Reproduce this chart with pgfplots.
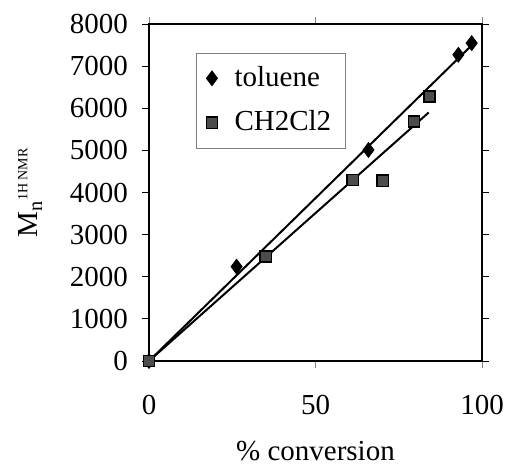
\documentclass[border=0pt]{standalone}
\usepackage{pgfplots}
\pgfplotsset{compat=1.18}
\usepackage{fontspec}
\setmainfont{Liberation Serif}
\begin{document}
\fontsize{14.5}{17}\selectfont
\begin{tikzpicture}
\path[use as bounding box] (-74.5pt,-53.5pt) rectangle (179pt,180.5pt);
\begin{axis}[
  scale only axis,
  width=166.5pt, height=168.5pt,
  xmin=0, xmax=100, ymin=0, ymax=8000,
  xtick={0,50,100}, ytick={0,1000,...,8000},
  tick align=outside,
  major tick length=3.5pt,
  xtick style={draw=gray, thin},
  ytick style={draw=black, thin},
  axis line style={black, line width=0.9pt},
  /pgf/number format/assume math mode=true,
  scaled y ticks=false,
  yticklabel style={/pgf/number format/1000 sep={}, font=\fontsize{14.5}{17}\selectfont, xshift=-2pt},
  xticklabel style={font=\fontsize{14.5}{17}\selectfont, yshift=-8.5pt},
  xlabel={\% conversion},
  xlabel style={font=\fontsize{14.5}{17}\selectfont, at={(axis description cs:0.5,-0.267)}, anchor=center},
  ylabel={M\textsubscript{n}\textsuperscript{\fontsize{7}{8}\selectfont 1H NMR}},
  ylabel style={font=\fontsize{14.5}{17}\selectfont, at={(axis description cs:-0.357,0.5)}, anchor=center},
  legend style={at={(0.141,0.915)}, anchor=north west, draw=gray, thin,
    font=\fontsize{14.5}{17}\selectfont, inner xsep=5pt, inner ysep=4.5pt, row sep=6pt,
    column sep=6.5pt},
  legend cell align=left,
  clip=false,
]
\addplot[only marks, mark=diamond*, mark size=3.7pt, mark options={fill=black, draw=black}] coordinates {
 (0,0) (26.3,2240) (65.9,5010) (92.9,7270) (96.9,7546)};
\addlegendentry{toluene}
\addplot[only marks, mark=square*, mark size=2.8pt, mark options={fill=gray!60!black, draw=black, line width=0.8pt}] coordinates {
 (0,0) (35.1,2478) (61.2,4299) (70.2,4276) (79.6,5684) (84.2,6278)};
\addlegendentry{CH2Cl2}
\addplot[black, line width=1pt, forget plot] coordinates {(0,0) (98,7580)};
\addplot[black, line width=1pt, forget plot] coordinates {(0,0) (84,5900)};
\end{axis}
\end{tikzpicture}
\end{document}
